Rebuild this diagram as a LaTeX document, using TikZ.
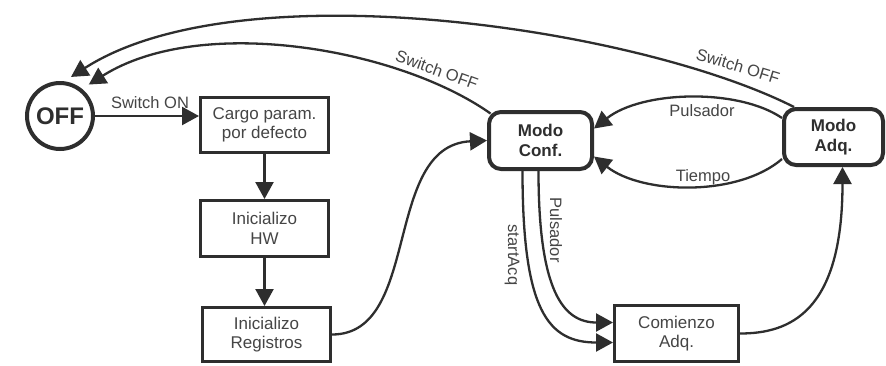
\documentclass[tikz,border=0pt]{standalone}
\usepackage{fontspec}
\setmainfont{Liberation Sans}
\usetikzlibrary{arrows.meta}
\definecolor{ink}{HTML}{2E2E2E}
\definecolor{txt}{HTML}{454545}
\begin{document}
\begin{tikzpicture}[x=1pt,y=-1pt,
  every node/.style={inner sep=0pt, text=txt},
  lbl/.style={font=\fontsize{16.5}{19}\selectfont},
  plainbox/.style={draw=ink, line width=3pt, minimum width=128pt, minimum height=55pt,
    align=center, font=\fontsize{17}{19.5}\selectfont},
  modebox/.style={draw=ink, line width=4pt, rounded corners=12pt, align=center,
    font=\fontsize{17}{19.5}\selectfont\bfseries, text=ink},
  conn/.style={draw=ink, line width=2.3pt, -{Triangle[length=17pt,width=18pt]}},
]
\fill[white] (0,0) rectangle (886,365);
\useasboundingbox (0,0) rectangle (886,365);

% states
\node[circle, draw=ink, line width=4pt, minimum size=66pt,
      font=\fontsize{24}{24}\selectfont\bfseries, text=ink] (off) at (60,116) {OFF};
\node[plainbox] (cargo) at (264.5,125) {Cargo param.\\por defecto};
\node[plainbox, minimum height=56pt] (hw) at (264.5,228.5) {Inicializo\\HW};
\node[plainbox, minimum height=54pt] (reg) at (266.5,334.5) {Inicializo\\Registros};
\node[modebox, minimum width=103pt, minimum height=57pt] (conf) at (540.5,140.5) {Modo\\Conf.};
\node[modebox, minimum width=99pt, minimum height=56pt] (adq) at (833.5,137) {Modo\\Adq.};
\node[plainbox, minimum width=124pt, minimum height=56pt] (com) at (676.5,333.5) {Comienzo\\Adq.};

% start-up sequence
\draw[conn] (off.east) -- (off.east -| cargo.west);
\draw[conn] (cargo.south) -- (hw.north);
\draw[conn] (hw.south) -- ([xshift=-2pt]reg.north);
\draw[conn] (reg.east) .. controls +(90,0) and +(-105,5) .. (conf.west);

% mode changes
\draw[conn] ([yshift=19pt]adq.west) .. controls +(-44,-30) and +(48,-38) .. ([yshift=12pt]conf.east);
\draw[conn] ([yshift=-22pt]adq.west) .. controls +(-44,38) and +(48,38) .. ([yshift=-16pt]conf.east);
\draw[conn] ([xshift=-18pt]conf.south) .. controls +(0,140) and +(-65,0) .. ([yshift=-9pt]com.west);
\draw[conn] ([xshift=-2pt]conf.south) .. controls +(0,120) and +(-50,0) .. ([yshift=11pt]com.west);
\draw[conn] (com.east) .. controls +(50,0) and +(0,145) .. ([xshift=9pt]adq.south);

% switching off
\draw[conn, shorten >=8pt] ([shift={(3.5pt,-3.5pt)}]conf.north west) .. controls +(-92,-65) and +(119,-75) .. (off.51);
\draw[conn, shorten >=8pt] ([xshift=12pt]adq.north west) .. controls +(-156,-79) and +(176,-113) .. (off.83);

% transition labels
\node[lbl, anchor=base] (lon) at (150,108.5) {Switch ON};
\node[lbl, anchor=base] (lpa) at (702,116) {Pulsador};
\node[lbl, anchor=base] (lti) at (703,181) {Tiempo};
\node[lbl, rotate=-20] (loffa) at (437,70) {Switch OFF};
\node[lbl, rotate=-17] (loffb) at (738,66) {Switch OFF};
\node[lbl, rotate=-90] (lsa) at (512,255) {startAcq};
\node[lbl, rotate=-90] (lpb) at (556,230) {Pulsador};
\end{tikzpicture}
\end{document}
